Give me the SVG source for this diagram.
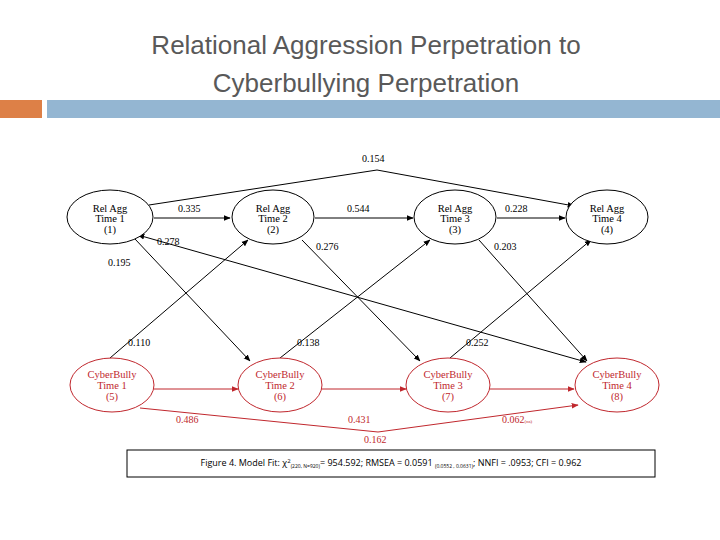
<svg xmlns="http://www.w3.org/2000/svg" width="720" height="540" viewBox="0 0 720 540">
<style>
.t{font-family:"Liberation Sans",Arial,sans-serif;font-size:26px;fill:#595959;text-anchor:middle}
.n{font-family:"Liberation Serif",serif;font-size:10.5px;text-anchor:middle}
.k{fill:#000}.r{fill:#c0272d}
.e{fill:#fff;stroke-width:1}
.l{font-family:"Liberation Serif",serif;font-size:10px}
.c line,.c path{fill:none;stroke-width:1}
</style>
<defs>
<marker id="ab" viewBox="0 0 10 10" refX="9" refY="5" markerWidth="7" markerHeight="7" orient="auto-start-reverse"><path d="M0,1L10,5L0,9z" fill="#000"/></marker>
<marker id="ar" viewBox="0 0 10 10" refX="9" refY="5" markerWidth="7" markerHeight="7" orient="auto"><path d="M0,1L10,5L0,9z" fill="#c0272d"/></marker>
</defs>
<rect width="720" height="540" fill="#fff"/>
<text class="t" x="366" y="54">Relational Aggression Perpetration to</text>
<text class="t" x="366" y="92">Cyberbullying Perpetration</text>
<rect x="0" y="100" width="42" height="18" fill="#dd8047"/>
<rect x="47" y="100" width="673" height="18" fill="#94b6d2"/>
<g class="c" id="connectors">
<g stroke="#000">
<path d="M149,205 L377,170 L574,206" marker-end="url(#ab)"/>
<line x1="154" y1="218" x2="230" y2="218" marker-end="url(#ab)"/>
<line x1="315" y1="218" x2="413" y2="218" marker-end="url(#ab)"/>
<line x1="497" y1="218" x2="565" y2="218" marker-end="url(#ab)"/>
<line x1="110" y1="358" x2="248" y2="240" marker-end="url(#ab)"/>
<line x1="135" y1="239" x2="250" y2="361" marker-end="url(#ab)"/>
<line x1="138" y1="235" x2="586" y2="362" marker-start="url(#ab)" marker-end="url(#ab)"/>
<line x1="280" y1="358" x2="430" y2="240" marker-end="url(#ab)"/>
<line x1="302" y1="240" x2="420" y2="361" marker-end="url(#ab)"/>
<line x1="450" y1="358" x2="591" y2="240" marker-end="url(#ab)"/>
<line x1="479" y1="240" x2="587" y2="361" marker-end="url(#ab)"/>
</g>
<g stroke="#c0272d">
<line x1="154" y1="389" x2="238" y2="389" marker-end="url(#ar)"/>
<line x1="322" y1="389" x2="406" y2="389" marker-end="url(#ar)"/>
<line x1="490" y1="389" x2="574" y2="389" marker-end="url(#ar)"/>
<path d="M140,408 L378,432 L578,405" marker-end="url(#ar)"/>
</g>
</g>
<g class="l">
<text x="362" y="162">0.154</text>
<text x="178" y="212">0.335</text>
<text x="347" y="212">0.544</text>
<text x="505" y="212">0.228</text>
<text x="157" y="245">0.278</text>
<text x="108" y="266">0.195</text>
<text x="316" y="250">0.276</text>
<text x="494" y="250">0.203</text>
<text x="128" y="346">0.110</text>
<text x="297" y="346">0.138</text>
<text x="466" y="346">0.252</text>
</g>
<g class="l" fill="#c0272d">
<text x="176" y="423">0.486</text>
<text x="348" y="423">0.431</text>
<text x="502" y="423">0.062<tspan font-size="5">(ns)</tspan></text>
<text x="364" y="443">0.162</text>
</g>
<g id="n1"><ellipse class="e" cx="110" cy="217" rx="43" ry="27" stroke="#000"/><text class="n k" x="110" y="212">Rel Agg</text><text class="n k" x="110" y="222">Time 1</text><text class="n k" x="110" y="233">(1)</text></g>
<g id="n2"><ellipse class="e" cx="273" cy="217" rx="41" ry="27" stroke="#000"/><text class="n k" x="273" y="212">Rel Agg</text><text class="n k" x="273" y="222">Time 2</text><text class="n k" x="273" y="233">(2)</text></g>
<g id="n3"><ellipse class="e" cx="455" cy="217" rx="41" ry="27" stroke="#000"/><text class="n k" x="455" y="212">Rel Agg</text><text class="n k" x="455" y="222">Time 3</text><text class="n k" x="455" y="233">(3)</text></g>
<g id="n4"><ellipse class="e" cx="607" cy="217" rx="41" ry="27" stroke="#000"/><text class="n k" x="607" y="212">Rel Agg</text><text class="n k" x="607" y="222">Time 4</text><text class="n k" x="607" y="233">(4)</text></g>
<g id="n5"><ellipse class="e" cx="112" cy="385" rx="42" ry="27" stroke="#c0272d"/><text class="n r" x="112" y="378">CyberBully</text><text class="n r" x="112" y="389">Time 1</text><text class="n r" x="112" y="400">(5)</text></g>
<g id="n6"><ellipse class="e" cx="280" cy="385" rx="42" ry="27" stroke="#c0272d"/><text class="n r" x="280" y="378">CyberBully</text><text class="n r" x="280" y="389">Time 2</text><text class="n r" x="280" y="400">(6)</text></g>
<g id="n7"><ellipse class="e" cx="448" cy="385" rx="42" ry="27" stroke="#c0272d"/><text class="n r" x="448" y="378">CyberBully</text><text class="n r" x="448" y="389">Time 3</text><text class="n r" x="448" y="400">(7)</text></g>
<g id="n8"><ellipse class="e" cx="617" cy="385" rx="42" ry="27" stroke="#c0272d"/><text class="n r" x="617" y="378">CyberBully</text><text class="n r" x="617" y="389">Time 4</text><text class="n r" x="617" y="400">(8)</text></g>
<g id="fit">
<rect x="127" y="450" width="528" height="27" fill="#fff" stroke="#000" stroke-width="1"/>
<text x="391" y="466" text-anchor="middle" font-family="'Open Sans','Liberation Sans',sans-serif" font-size="9" fill="#000">Figure 4.  Model Fit: χ<tspan font-size="6" dy="-3">2</tspan><tspan font-size="5" dy="5">(220, N=920)</tspan><tspan dy="-2">= 954.592; RMSEA = 0.0591 </tspan><tspan font-size="5" dy="2">(0.0552 , 0.0631)</tspan><tspan dy="-2">; NNFI = .0953; CFI = 0.962</tspan></text>
</g>
</svg>
